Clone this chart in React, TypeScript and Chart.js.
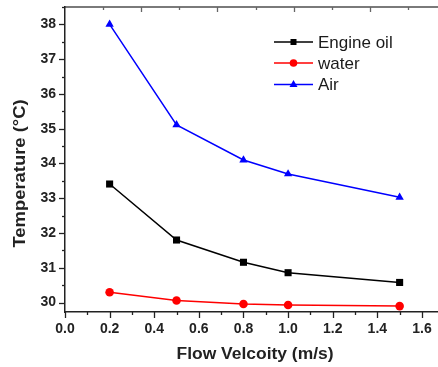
import React, { useEffect, useRef } from "react";
import { Chart, registerables } from "chart.js";

Chart.register(...registerables);

const velocities = [0.2, 0.5, 0.8, 1.0, 1.5];
const engineOil = [33.41, 31.8, 31.16, 30.86, 30.58];
const water = [30.3, 30.06, 29.96, 29.93, 29.9];
const air = [38.0, 35.11, 34.1, 33.7, 33.03];
const seriesNames = ["Engine oil", "water", "Air"];
const xTitle = "Flow Velcoity (m/s)";
const yTitle = "Temperature (°C)";

const FONT = "'Liberation Sans', Arial, Helvetica, sans-serif";

const tickPlugin = {
  id: "customTicks",
  afterDraw(chart: any) {
    const ctx = chart.ctx;
    const area = chart.chartArea;
    const xs = chart.scales.x;
    const ys = chart.scales.y;
    const x2 = chart.scales.x2;
    ctx.save();
    ctx.strokeStyle = "#222";
    ctx.lineWidth = 1.3;
    xs.ticks.forEach((t: any) => {
      const px = Math.round(xs.getPixelForValue(t.value)) + 0.5;
      const major = Math.round(t.value * 10) % 2 === 0;
      ctx.beginPath();
      ctx.moveTo(px, area.bottom);
      ctx.lineTo(px, area.bottom + (major ? 6 : 3));
      ctx.stroke();
    });
    ys.ticks.forEach((t: any) => {
      const py = Math.round(ys.getPixelForValue(t.value)) + 0.5;
      const major = Math.abs(t.value - Math.round(t.value)) < 1e-6;
      ctx.beginPath();
      ctx.moveTo(area.left, py);
      ctx.lineTo(area.left - (major ? 6 : 3), py);
      ctx.stroke();
    });
    ctx.strokeStyle = "#666";
    x2.ticks.forEach((t: any) => {
      if (t.value === 0) return;
      const px = Math.round(x2.getPixelForValue(t.value)) + 0.5;
      const major = Math.round(t.value) % 2 === 0;
      ctx.beginPath();
      ctx.moveTo(px, area.top);
      ctx.lineTo(px, area.top + (major ? 5 : 3));
      ctx.stroke();
    });

    // axis titles (slightly widened like the original rendering)
    ctx.fillStyle = "#222";
    ctx.font = `bold 16px ${FONT}`;
    ctx.textAlign = "center";
    ctx.textBaseline = "middle";
    ctx.save();
    ctx.translate(255, 355);
    ctx.scale(1.09, 1);
    ctx.fillText(xTitle, 0, 0);
    ctx.restore();
    ctx.save();
    ctx.translate(21, 173.5);
    ctx.rotate(-Math.PI / 2);
    ctx.scale(1.15, 1);
    ctx.fillText(yTitle, 0, 0);
    ctx.restore();
    ctx.restore();
  },
};

const legendPlugin = {
  id: "customLegend",
  afterDraw(chart: any) {
    const ctx = chart.ctx;
    const x0 = 274;
    const x1 = 313;
    const rows = [42, 63, 84.5];
    ctx.save();
    chart.data.datasets.forEach((ds: any, i: number) => {
      const y = rows[i];
      ctx.strokeStyle = ds.borderColor;
      ctx.lineWidth = 1.5;
      ctx.beginPath();
      ctx.moveTo(x0, y);
      ctx.lineTo(x1, y);
      ctx.stroke();
      const cx = (x0 + x1) / 2;
      ctx.fillStyle = ds.pointBackgroundColor;
      ctx.beginPath();
      if (ds.pointStyle === "rect") {
        ctx.rect(cx - 3, y - 3, 6, 6);
      } else if (ds.pointStyle === "circle") {
        ctx.arc(cx, y, 3.8, 0, Math.PI * 2);
      } else {
        ctx.moveTo(cx, y - 4.5);
        ctx.lineTo(cx + 4, y + 2.5);
        ctx.lineTo(cx - 4, y + 2.5);
        ctx.closePath();
      }
      ctx.fill();
      ctx.fillStyle = "#1a1a1a";
      ctx.font = `17px ${FONT}`;
      ctx.textBaseline = "middle";
      ctx.textAlign = "left";
      ctx.fillText(ds.label, x1 + 5, y + 1);
    });
    ctx.restore();
  },
};

function toPoints(ys: number[]) {
  return velocities.map((v, i) => ({ x: v, y: ys[i] }));
}

const zeroPad = (s: any) => {
  s.paddingTop = 0;
  s.paddingBottom = 0;
  s.paddingLeft = 0;
  s.paddingRight = 0;
};

export default function App() {
  const ref = useRef<HTMLCanvasElement | null>(null);
  useEffect(() => {
    if (!ref.current) return;
    const chart = new Chart(ref.current, {
      type: "line",
      data: {
        datasets: [
          {
            label: seriesNames[0],
            data: toPoints(engineOil),
            borderColor: "#000000",
            backgroundColor: "#000000",
            pointBackgroundColor: "#000000",
            pointBorderColor: "#000000",
            pointStyle: "rect",
            pointRadius: 5,
            pointBorderWidth: 0,
            borderWidth: 1.5,
          },
          {
            label: seriesNames[1],
            data: toPoints(water),
            borderColor: "#ff0000",
            backgroundColor: "#ff0000",
            pointBackgroundColor: "#ff0000",
            pointBorderColor: "#ff0000",
            pointStyle: "circle",
            pointRadius: 4.3,
            pointBorderWidth: 0,
            borderWidth: 1.5,
          },
          {
            label: seriesNames[2],
            data: toPoints(air),
            borderColor: "#0000ff",
            backgroundColor: "#0000ff",
            pointBackgroundColor: "#0000ff",
            pointBorderColor: "#0000ff",
            pointStyle: "triangle",
            pointRadius: 4.8,
            pointBorderWidth: 0,
            borderWidth: 1.5,
          },
        ],
      },
      options: {
        animation: false,
        responsive: false,
        maintainAspectRatio: false,
        layout: { padding: 0, autoPadding: false },
        plugins: { legend: { display: false }, tooltip: { enabled: false } },
        scales: {
          x: {
            type: "linear",
            position: "bottom",
            min: 0,
            max: 1.672,
            grid: { display: false, drawTicks: false },
            border: { display: true, color: "#222", width: 1.5 },
            ticks: {
              stepSize: 0.1,
              autoSkip: false,
              includeBounds: false,
              maxRotation: 0,
              padding: 9,
              color: "#222",
              font: { family: FONT, size: 14, weight: "bold" },
              callback: (v: any) => {
                const n = Number(v);
                return Math.round(n * 10) % 2 === 0 ? n.toFixed(1) : "";
              },
            },
            title: { display: false },
            afterFit: (s: any) => {
              s.height = 55;
              zeroPad(s);
            },
          },
          x2: {
            type: "linear",
            position: "top",
            min: 0,
            max: 9.79,
            grid: { display: false, drawTicks: false },
            border: { display: true, color: "#7a7a7a", width: 2 },
            ticks: { display: false, stepSize: 1, includeBounds: false },
            afterFit: (s: any) => {
              s.height = 7;
              zeroPad(s);
            },
          },
          y: {
            type: "linear",
            position: "left",
            min: 29.73,
            max: 38.5,
            grid: { display: false, drawTicks: false },
            border: { display: true, color: "#222", width: 1.5 },
            ticks: {
              stepSize: 0.5,
              autoSkip: false,
              includeBounds: false,
              padding: 9,
              color: "#222",
              font: { family: FONT, size: 14, weight: "bold" },
              callback: (v: any) => {
                const n = Number(v);
                return Math.abs(n - Math.round(n)) < 1e-6 ? String(Math.round(n)) : "";
              },
            },
            title: { display: false },
            afterFit: (s: any) => {
              s.width = 65;
              zeroPad(s);
            },
          },
        },
      } as any,
      plugins: [tickPlugin, legendPlugin],
    });
    return () => chart.destroy();
  }, []);
  return (
    <div style={{ position: "absolute", left: 0, top: 0, width: 438, height: 367, background: "#fff" }}>
      <canvas ref={ref} width={438} height={367} style={{ display: "block" }} />
    </div>
  );
}
